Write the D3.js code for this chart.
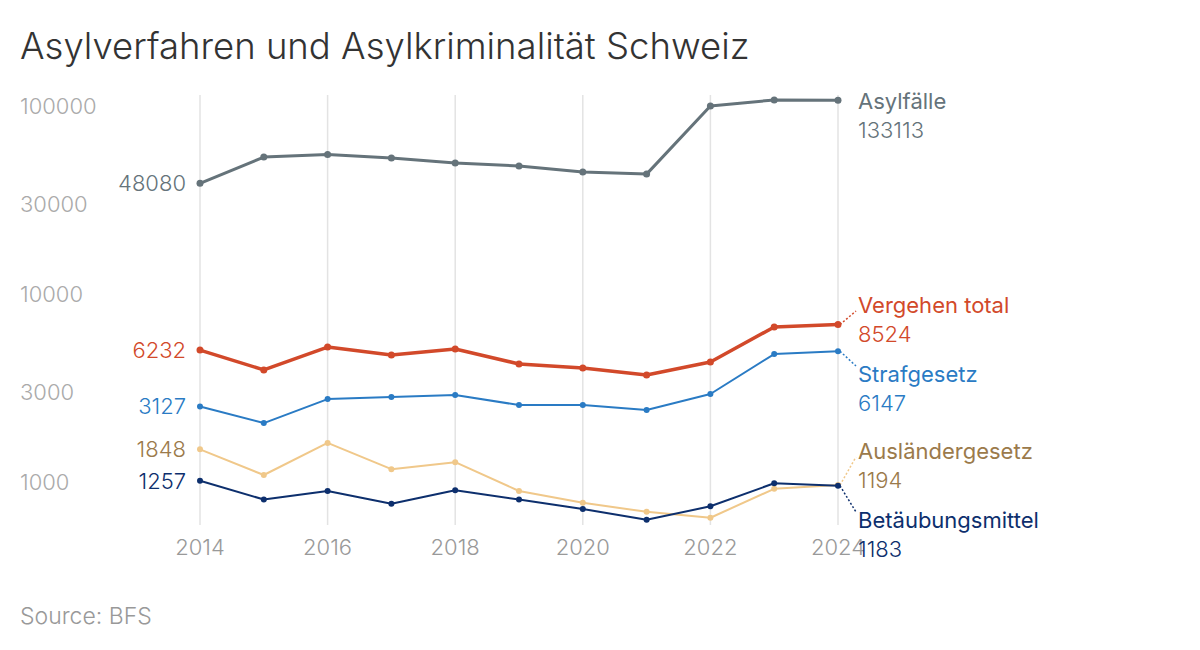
<!DOCTYPE html>
<html><head><meta charset="utf-8">
<script src="https://cdn.jsdelivr.net/npm/d3@7"></script>
<style>body{margin:0;background:#fff;font-family:Inter,"Noto Sans",sans-serif;}</style>
</head><body><div id="chart"></div>
<script>
// data
var years = [2014,2015,2016,2017,2018,2019,2020,2021,2022,2023,2024];
var asyl       = [48080,66300,68400,65500,61600,59400,55200,53800,124000,133400,133113];
var vergehen   = [6232,4890,6470,5870,6320,5260,5000,4590,5390,8270,8524];
var strafgesetz= [3127,2550,3420,3510,3600,3180,3180,2990,3640,5940,6147];
var auslaender = [1848,1350,2000,1450,1580,1110,960,860,800,1140,1194];
var betaeubung = [1257,1000,1110,950,1120,1000,890,780,920,1220,1183];
var yTicks = [1000,3000,10000,30000,100000];
var xTicks = [2014,2016,2018,2020,2022,2024];

var series = [
  {name:"Asylfälle", values:asyl, color:"#65737a", text:"#65737a", w:3, ly:101, conn:false},
  {name:"Vergehen total", values:vergehen, color:"#d2492a", text:"#d2492a", w:3.5, ly:305, conn:true},
  {name:"Strafgesetz", values:strafgesetz, color:"#2a7bc4", text:"#2a7bc4", w:2, ly:374, conn:true},
  {name:"Ausländergesetz", values:auslaender, color:"#f0c88a", text:"#9b7a4b", w:2, ly:451, conn:true},
  {name:"Betäubungsmittel", values:betaeubung, color:"#0d2f6d", text:"#0d2f6d", w:2, ly:520, conn:true}
];

var svg = d3.select("#chart").append("svg").attr("width",1200).attr("height",650);

var x = d3.scaleLinear().domain([2014,2024]).range([200,838]);
var y = d3.scaleLog().domain([1000,100000]).range([499.5,123.5]);

svg.append("text").attr("x",20).attr("y",59).attr("font-size",36.5).attr("font-weight",300)
  .attr("fill","#333").text("Asylverfahren und Asylkriminalität Schweiz");

// vertical grid
svg.selectAll(".grid").data(xTicks).enter().append("line")
  .attr("x1",function(d){return x(d);}).attr("x2",function(d){return x(d);})
  .attr("y1",95).attr("y2",525).attr("stroke","#e3e3e3").attr("stroke-width",1.5);

svg.selectAll(".xt").data(xTicks).enter().append("text")
  .attr("x",function(d){return x(d);}).attr("y",555).attr("text-anchor","middle")
  .attr("font-size",22).attr("font-weight",300).attr("fill","#999").text(function(d){return d;});

svg.selectAll(".yt").data(yTicks).enter().append("text")
  .attr("x",20).attr("y",function(d){return y(d)-17.5;}).attr("dy","0.35em")
  .attr("font-size",22).attr("font-weight",300).attr("fill","#aaa").text(function(d){return d;});

var line = d3.line().x(function(d,i){return x(years[i]);}).y(function(d){return y(d);});

series.forEach(function(s){
  svg.append("path").datum(s.values).attr("d",line).attr("fill","none")
    .attr("stroke",s.color).attr("stroke-width",s.w).attr("stroke-linejoin","round");
  svg.selectAll(null).data(s.values).enter().append("circle")
    .attr("cx",function(d,i){return x(years[i]);}).attr("cy",function(d){return y(d);})
    .attr("r",s.w>2.5?3.5:3).attr("fill",s.color);
  // start label
  svg.append("text").attr("x",x(2014)-14).attr("y",y(s.values[0])).attr("dy","0.35em")
    .attr("text-anchor","end").attr("font-size",22).attr("font-weight",300)
    .attr("fill",s.text).text(s.values[0]);
  var last = s.values[s.values.length-1];
  var px = x(2024), py = y(last);
  if (s.conn) {
    svg.append("line").attr("x1",px+2).attr("y1",py).attr("x2",856).attr("y2",s.ly+(s.ly<py?6:-8))
      .attr("stroke",s.color).attr("stroke-width",1.5).attr("stroke-dasharray","2,2");
  }
  svg.append("text").attr("x",858).attr("y",s.ly).attr("dy","0.35em").attr("font-size",22)
    .attr("font-weight",400).attr("fill",s.text).text(s.name);
  svg.append("text").attr("x",858).attr("y",s.ly+29).attr("dy","0.35em").attr("font-size",22)
    .attr("font-weight",300).attr("fill",s.text).text(last);
});

svg.append("text").attr("x",20).attr("y",624).attr("font-size",23).attr("font-weight",300)
  .attr("fill","#999").text("Source: BFS");
</script>
</body></html>
